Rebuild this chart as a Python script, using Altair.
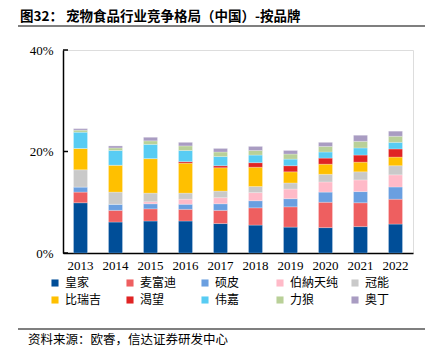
import altair as alt
import pandas as pd

years = ["2013", "2014", "2015", "2016", "2017", "2018", "2019", "2020", "2021", "2022"]
brands = ["皇家", "麦富迪", "硕皮", "伯納天纯", "冠能", "比瑞吉", "渴望", "伟嘉", "力狼", "奥丁"]
colors = ["#004E98", "#EE5F60", "#6A9FE0", "#FFBAC8", "#C9C9C9", "#FFC000", "#E02424", "#58CCF3", "#B9D098", "#A99CC2"]

huangjia = [9.9, 6.1, 6.3, 6.3, 5.8, 5.5, 5.1, 5.0, 5.2, 5.7]
maifudi = [2.1, 2.3, 2.4, 2.3, 2.6, 3.4, 4.0, 5.0, 4.7, 4.9]
shuopi = [1.0, 1.2, 1.0, 1.0, 1.3, 1.4, 1.6, 2.0, 2.2, 2.4]
bona = [0.0, 0.0, 0.4, 1.0, 1.2, 1.6, 1.9, 2.0, 2.3, 2.4]
guanneng = [3.4, 2.4, 1.7, 1.2, 1.3, 1.2, 1.2, 1.5, 1.6, 1.8]
biruiji = [4.2, 5.3, 6.8, 5.9, 4.6, 3.8, 2.2, 2.0, 1.9, 1.7]
kewang = [0.0, 0.0, 0.0, 0.3, 0.4, 0.9, 1.2, 1.2, 1.4, 1.6]
weijia = [3.2, 2.9, 2.8, 2.2, 1.8, 1.5, 1.3, 1.2, 1.4, 1.3]
lilang = [0.4, 0.5, 0.7, 0.9, 0.9, 0.9, 1.0, 1.1, 1.3, 1.2]
aoding = [0.3, 0.4, 0.7, 0.7, 0.7, 0.8, 0.7, 0.8, 1.2, 1.0]

y_ticks = [0, 0.2, 0.4]
title_text = "图32：  宠物食品行业竞争格局（中国）-按品牌"
source_text = "资料来源：欧睿，信达证券研发中心"

series = [huangjia, maifudi, shuopi, bona, guanneng, biruiji, kewang, weijia, lilang, aoding]
rows = []
for i, (b, vals) in enumerate(zip(brands, series)):
    for y, v in zip(years, vals):
        rows.append({"year": y, "brand": b, "idx": i, "value": v / 100})
df = pd.DataFrame(rows)

CJK = "Noto Sans CJK SC"
SERIF = "Liberation Serif"

y_axis = alt.Axis(values=y_ticks, format=".0%", ticks=False, labelFont=SERIF, labelFontSize=13,
                  labelColor="#000", labelPadding=10, domainColor="#000", domainWidth=1.5,
                  grid=False)
y_scale = alt.Scale(domain=[0, 0.4], nice=False)

bars = alt.Chart(df).mark_bar(stroke="white", strokeWidth=0.4, strokeOpacity=0.6).encode(
    x=alt.X("year:N", title=None, sort=years,
            scale=alt.Scale(paddingInner=0.6, paddingOuter=0.3),
            axis=alt.Axis(labelAngle=0, ticks=False, labelFont=SERIF, labelFontSize=13,
                          labelColor="#000", labelPadding=6, domainColor="#000", domainWidth=1.5)),
    y=alt.Y("value:Q", title=None, stack="zero", scale=y_scale, axis=y_axis),
    color=alt.Color("brand:N", sort=brands,
                    scale=alt.Scale(domain=brands, range=colors),
                    legend=alt.Legend(title=None, orient="none", legendX=-14, legendY=227,
                                      columns=5, direction="horizontal", gridAlign="all",
                                      columnPadding=10, rowPadding=5, symbolType="square",
                                      symbolSize=50, symbolStrokeWidth=0, labelFont=CJK,
                                      labelFontSize=12, labelColor="#000", labelOffset=4)),
    order=alt.Order("idx:Q", sort="ascending"),
)

ticks = alt.Chart(pd.DataFrame({"value": y_ticks})).mark_rule(color="#000", strokeWidth=1.5).encode(
    y=alt.Y("value:Q", title=None, scale=y_scale, axis=y_axis),
    x=alt.value(0),
    x2=alt.value(5),
)

one = alt.Data(values=[{}])

title = alt.Chart(one).mark_text(text=title_text, font=CJK, fontSize=13.5, fontWeight="bold",
                                  align="left", baseline="top", color="#000").encode(
    x=alt.value(-43), y=alt.value(-40.5))

top_line = alt.Chart(one).mark_rule(color="#555", strokeWidth=1.5).encode(
    x=alt.value(-45), x2=alt.value(362), y=alt.value(-24))

bottom_line = alt.Chart(one).mark_rule(color="#555", strokeWidth=1.5).encode(
    x=alt.value(-45), x2=alt.value(362), y=alt.value(279))

source = alt.Chart(one).mark_text(text=source_text, font=CJK, fontSize=12.5, align="left",
                                   baseline="middle", color="#000").encode(
    x=alt.value(-35), y=alt.value(289.5))

chart = alt.layer(bars, ticks, title, top_line, bottom_line, source).properties(
    width=350, height=203,
    padding={"left": 55, "top": 42, "right": 19, "bottom": 96},
    autosize=alt.AutoSizeParams(type="none"),
).configure_view(stroke=None).configure(background="white")

chart.save("out.html", embed_options={"renderer": "svg", "actions": False})
